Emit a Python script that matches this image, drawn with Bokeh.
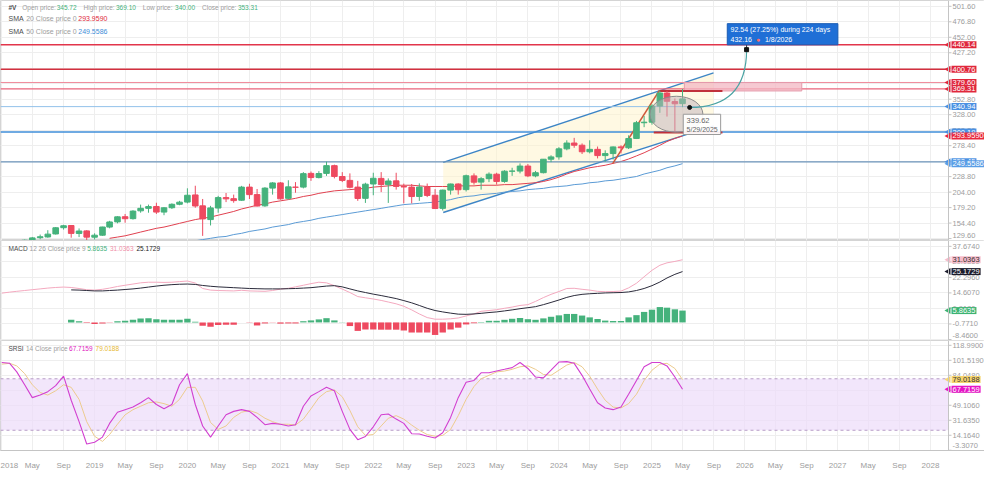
import math
import pandas as pd
from datetime import datetime
from bokeh.plotting import figure
from bokeh.layouts import column
from bokeh.models import (Range1d, FixedTicker, MonthsTicker, CustomJSTickFormatter,
                          Span, Label, ColumnDataSource)
from bokeh.core.properties import value
from bokeh.embed import file_html
from bokeh.resources import INLINE

# ---------------- data (monthly, Jan 2018 .. May 2025) ----------------
first_month = "2018-01-01"
opens = [114.6, 124.3, 122.9, 119.6, 127.0, 131.0, 132.2, 137.0, 147.0, 150.5, 137.8, 141.9,
         131.8, 135.0, 148.0, 156.3, 164.6, 161.5, 174.0, 178.0, 181.0, 172.0, 179.0, 184.5,
         188.0, 199.5, 182.0, 160.0, 178.5, 195.2, 193.5, 191.0, 212.0, 200.0, 182.0, 210.4,
         218.7, 194.0, 212.0, 212.0, 234.0, 227.3, 234.0, 246.4, 229.0, 222.8, 212.0, 194.0,
         217.0, 226.0, 216.0, 222.0, 213.0, 212.0, 197.0, 212.0, 199.0, 178.0, 207.2, 217.0,
         208.0, 230.0, 220.0, 225.5, 232.7, 221.1, 237.5, 237.7, 245.7, 230.0, 235.1, 256.7,
         260.4, 273.3, 282.6, 279.1, 268.6, 272.5, 262.5, 265.7, 276.4, 275.0, 289.9, 315.1,
         316.0, 341.8, 362.7, 349.0, 345.72]
highs = [126.9, 126.6, 126.9, 128.0, 132.2, 136.0, 143.0, 148.0, 151.6, 151.3, 145.8, 143.0,
         138.0, 148.5, 158.0, 165.4, 169.0, 175.0, 184.0, 184.0, 187.0, 180.0, 186.0, 190.0,
         210.1, 214.2, 193.0, 182.0, 198.0, 202.6, 200.0, 214.0, 217.4, 209.0, 212.0, 220.0,
         220.0, 223.0, 220.0, 236.0, 237.0, 237.6, 252.7, 248.0, 236.0, 234.0, 222.0, 219.0,
         235.0, 236.0, 226.0, 235.0, 217.6, 217.0, 218.0, 217.7, 208.8, 208.0, 217.6, 218.0,
         232.0, 234.0, 228.0, 235.6, 235.0, 239.0, 243.0, 250.0, 249.0, 238.0, 257.0, 263.0,
         276.0, 287.0, 290.9, 282.0, 287.0, 277.0, 271.0, 277.0, 279.0, 295.0, 318.0, 326.0,
         344.8, 366.5, 366.0, 354.0, 369.10]
lows = [114.0, 111.0, 117.0, 117.0, 124.0, 128.5, 131.0, 136.0, 144.0, 131.0, 132.0, 121.6,
        127.9, 134.0, 146.0, 154.0, 155.0, 160.0, 171.0, 171.0, 169.0, 167.0, 177.0, 183.0,
        186.0, 179.0, 133.9, 150.6, 171.0, 188.0, 187.0, 190.0, 193.0, 181.0, 180.5, 200.0,
        192.0, 192.0, 203.0, 210.0, 222.0, 226.0, 230.0, 226.0, 220.0, 210.0, 190.0, 186.7,
        199.0, 204.0, 186.7, 208.0, 186.0, 185.9, 190.0, 196.0, 177.6, 174.6, 200.0, 200.0,
        205.0, 216.0, 208.0, 220.0, 216.0, 219.0, 230.0, 234.0, 228.0, 227.8, 234.0, 252.0,
        256.0, 271.0, 275.0, 265.0, 266.0, 258.0, 252.7, 256.0, 266.0, 273.0, 289.0, 308.0,
        312.0, 331.0, 325.0, 300.0, 340.00]
closes = [124.3, 122.9, 119.6, 126.9, 130.7, 132.5, 136.7, 146.9, 150.1, 137.9, 141.7, 131.9,
          135.0, 148.1, 156.2, 164.4, 161.4, 173.6, 178.0, 180.8, 172.0, 178.9, 184.5, 187.9,
          199.0, 181.8, 161.1, 178.7, 195.2, 193.2, 190.4, 212.0, 200.0, 181.7, 210.4, 218.7,
          193.2, 212.4, 211.7, 233.6, 227.3, 233.8, 246.4, 229.1, 222.8, 211.8, 193.8, 216.7,
          226.2, 216.1, 221.8, 213.1, 212.2, 196.9, 212.1, 198.7, 177.7, 207.2, 217.0, 207.8,
          230.2, 219.9, 225.5, 232.7, 221.1, 237.5, 237.7, 245.7, 230.0, 235.1, 256.7, 260.4,
          273.3, 282.6, 279.1, 268.6, 272.5, 262.5, 265.7, 276.4, 275.0, 289.9, 315.1, 316.0,
          341.8, 362.7, 349.5, 345.5, 353.31]

sma20_first = 14
sma20 = [130, 132, 134, 137, 140, 143, 146, 148, 151, 154,
         157, 160, 162, 164, 167, 170, 173, 177, 180, 183, 185, 188,
         190, 192, 194, 197, 199, 202, 204, 206, 207, 208, 209, 210,
         212, 213, 214, 215, 215, 215, 214, 213, 213, 213, 213, 214,
         214, 214, 215, 215, 215, 216, 216, 217, 218, 219, 221, 224,
         228, 233, 237, 240, 243, 245, 247, 250, 253, 257, 262, 267,
         273, 279, 285, 290, 293.9590]
sma50_first = 25
sma50 = [126, 128, 130, 132, 133, 136, 138, 141, 143, 145, 148,
         150, 152, 155, 157, 159, 162, 164, 166, 168, 170, 172, 174,
         176, 178, 180, 182, 184, 185, 186, 187, 188, 190, 192, 195,
         197, 198, 200, 201, 202, 204, 205, 206, 208, 209, 210, 212,
         213, 214, 216, 217, 219, 220, 222, 223, 225, 227, 229, 233,
         236, 239, 243, 246, 249.5586]

macd_line = [14.5, 15.0, 15.4, 15.8, 16.2, 16.6, 17.0, 17.3, 17.5, 17.3, 16.8, 16.2,
             16.0, 16.4, 17.0, 17.8, 18.4, 19.0, 19.6, 19.9, 19.9, 19.8, 19.9, 20.2,
             20.5, 19.5, 16.8, 16.0, 15.8, 15.7, 15.6, 15.9, 15.6, 15.5, 15.4, 15.8,
             16.5, 16.9, 17.6, 18.4, 19.2, 19.9, 19.6, 18.2, 16.5, 14.8, 12.8, 12.2,
             11.6, 10.9, 10.1, 9.2, 8.0, 6.2, 4.2, 2.4, 1.6, 1.6, 1.8, 2.2,
             3.2, 4.2, 5.5, 5.9, 6.3, 7.0, 7.6, 8.4, 8.8, 10.4, 12.3, 13.9,
             15.3, 16.8, 16.9, 16.4, 16.0, 15.4, 15.2, 15.3, 15.5, 17.1, 19.4, 22.6,
             25.8, 28.3, 29.5, 30.2, 31.0363]
signal_first = 9
signal_line = [16.1, 16.0, 15.8,
               15.6, 15.6, 15.8, 16.0, 16.3, 16.6, 17.0, 17.5, 18.0, 18.4, 18.7, 18.9,
               19.0, 18.8, 18.3, 17.9, 17.6, 17.4, 17.2, 17.0, 16.8, 16.7, 16.6, 16.6,
               16.6, 16.7, 16.8, 17.0, 17.2, 17.6, 18.0, 18.2, 17.6, 16.6, 15.6, 14.8,
               14.0, 13.3, 12.6, 11.8, 10.8, 9.7, 8.4, 7.0, 5.9, 5.2, 4.6, 4.1,
               4.0, 4.2, 4.5, 4.9, 5.2, 5.7, 6.2, 6.8, 7.3, 7.8, 8.8, 9.9,
               11.1, 12.4, 13.3, 13.9, 14.2, 14.4, 14.6, 14.7, 14.8, 15.1, 15.8, 16.8,
               18.2, 20.0, 22.0, 23.8, 25.1729]
hist_first = 9
macd_hist = [1.3, 0.6, -0.3,
             -0.8, -0.5, -0.2, 0.6, 0.8, 1.3, 2.0, 2.1, 1.6, 1.3, 1.3, 1.3,
             1.8, 0.3, -1.6, -2.2, -1.3, -1.2, -1.2, -0.1, -0.2, -1.5, -0.5, -0.1,
             -0.6, -0.5, -0.5, 0.6, 1.0, 1.5, 2.1, 1.0, 0.1, -1.8, -4.2, -3.5,
             -3.5, -3.6, -3.6, -3.6, -4.0, -5.0, -5.0, -5.0, -6.2, -5.0, -3.5, -2.6,
             -1.0, -0.4, 0.2, 0.8, 0.8, 1.3, 1.8, 2.2, 1.6, 1.3, 2.0, 2.8,
             3.5, 4.2, 4.2, 3.4, 2.5, 1.7, 0.9, 0.7, 0.7, 2.5, 3.6, 5.2,
             6.3, 7.6, 7.3, 6.5, 5.8635]

srsi_k = [99, 98, 88, 73, 58, 61, 65, 72, 83, 55, 30, 4,
          6, 12, 28, 41, 44, 47, 52, 58, 50, 45, 50, 73,
          86, 50, 25, 12, 25, 38, 42, 44, 42, 35, 26.5, 28,
          27, 25, 26.5, 48, 60, 65, 70, 66, 42, 21, 9, 12.7,
          24, 38, 39, 33, 28, 16, 15.6, 13, 11, 17, 35, 58,
          76, 78, 87, 87, 89, 91, 93, 99, 92, 82, 81, 90,
          99.5, 100, 98, 84, 68, 52, 46, 44, 47, 62, 78, 94,
          99, 99, 95, 82, 67.7159]
srsi_d = [97, 98, 95, 86, 73, 64, 61, 66, 73, 70, 56, 30,
          13, 7, 15, 27, 38, 44, 48, 52, 53, 51, 48, 56,
          70, 70, 54, 29, 21, 25, 35, 41, 43, 40, 34, 30,
          27, 27, 26, 33, 45, 58, 65, 67, 59, 43, 24, 14,
          15, 25, 34, 37, 33, 26, 20, 15, 13, 14, 21, 37,
          56, 71, 80, 84, 88, 89, 91, 94, 95, 91, 85, 84,
          90, 96, 99, 94, 83, 68, 55, 47, 46, 51, 62, 78,
          90, 97, 98, 92, 79.0188]
srsi_band = (20, 80)

level_values = [440.14, 400.76, 379.60, 369.31, 340.94, 300.19, 252.45]
level_colors = ["#e2354b", "#d3303f", "#f08a9b", "#e9637a", "#93c2ea", "#3f8ed8", "#6b93ba"]
level_widths = [1.6, 1.6, 1.0, 1.4, 1.0, 1.6, 1.4]
level_badges = ["#e0283c", "#e0283c", "#e0283c", "#e0283c", "#4a90e2", "#4a90e2", "#4a90e2"]

price_ticks = [129.60, 154.40, 179.20, 204.00, 228.80, 253.60, 278.40, 303.20, 328.00,
               352.80, 377.60, 402.40, 427.20, 452.00, 476.80, 501.60]
macd_ticks = [-8.4600, -0.7710, 6.9180, 14.6070, 22.2960, 29.9850, 37.6740]
srsi_ticks = [-3.3070, 14.1640, 31.6350, 49.1060, 66.5770, 84.0480, 101.5190, 118.9900]

# projection annotation (from the reference)
proj_from = ("2025-05-29", 339.62)
proj_to = ("2026-01-08", 432.16)
proj_change, proj_pct, proj_days = 92.54, 27.25, 224

# ---------------- styling / helpers ----------------
FONT = "Liberation Sans"
GRAY_TXT = "#9d9d9d"
DARK_TXT = "#4a4a4a"
GRID = "#eeeeee"
AXIS_C = "#c4c4c4"
UP, DOWN = "#45b27c", "#ee4a60"

def ms(d):
    return (pd.Timestamp(d) - pd.Timestamp("1970-01-01")).total_seconds() * 1000.0

T0 = ms(datetime(2017, 12, 27))       # left edge of the plotting area
T1 = ms(datetime(2028, 3, 12))        # where the price scale starts
DATA_W, AXIS_W = 948, 36
TOTAL_W = DATA_W + AXIS_W
T_END = T1 + (T1 - T0) * AXIS_W / DATA_W

months = pd.date_range(first_month, periods=len(closes), freq="MS")
t_ms = [ms(d) for d in months]
DAY = 86400000.0
BAR_W = 22 * DAY

xr = Range1d(start=T0, end=T_END)
H_PRICE, H_MACD, H_SRSI = 240, 100, 110

CW = {}
for ch in "0123456789#$": CW[ch] = 0.556
for ch in " .,:;/!": CW[ch] = 0.278
for ch in "ijl": CW[ch] = 0.222
for ch in "rt()-f": CW[ch] = 0.333
CW.update({"m": 0.833, "w": 0.722, "%": 0.889, "M": 0.833, "I": 0.278})

def text_w(s, size, bold=False):
    w = 0.0
    for ch in s:
        if ch in CW: w += CW[ch]
        elif ch.isupper(): w += 0.70
        else: w += 0.53
    return w * size * (1.07 if bold else 1.0)

def header(p, fh, y_top, pieces, size=6.5, x0=8):
    x = x0
    for text, color, bold, gap in pieces:
        p.add_layout(Label(x=x, y=fh - y_top, x_units="screen", y_units="screen", text=text,
                           text_color=color, text_font_size=f"{size}px", text_font=FONT,
                           text_font_style="bold" if bold else "normal",
                           text_baseline="middle", text_align="left"))
        x += text_w(text, size, bold) + gap

def badge(p, y, text, bg, fg="white", size="7.5px"):
    p.scatter([T1 + 0.0], [y], marker="triangle", angle=math.pi / 2, size=7,
              fill_color=bg, line_color=None)
    p.add_layout(Label(x=T1, y=y, text=text, x_offset=3, text_align="left",
                       text_baseline="middle", text_font_size=size, text_font=FONT,
                       text_color=fg, background_fill_color=bg, background_fill_alpha=1.0,
                       padding=1))

def panel(fh, yr, ticks, fmt, bottom=False):
    p = figure(frame_width=TOTAL_W, frame_height=fh, x_range=xr, y_range=yr,
               x_axis_type="datetime", x_axis_location="below" if bottom else None,
               y_axis_location=None, output_backend="svg", toolbar_location=None,
               min_border_left=0, min_border_right=0, min_border_top=0, min_border_bottom=0)
    p.outline_line_color = "#d4d4d4"
    p.background_fill_color = "white"
    p.border_fill_color = "white"
    p.xgrid.ticker = MonthsTicker(months=[0, 4, 8])
    p.ygrid.ticker = FixedTicker(ticks=ticks)
    p.xgrid.grid_line_color = GRID
    p.ygrid.grid_line_color = GRID
    if bottom:
        xa = p.xaxis[0]
        xa.ticker = MonthsTicker(months=[0, 4, 8])
        xa.formatter = CustomJSTickFormatter(args=dict(lim=T1), code="""
            if (tick > lim) { return ""; }
            const d = new Date(tick); const m = d.getUTCMonth();
            if (m == 0) { return String(d.getUTCFullYear()); }
            return ["Jan","Feb","Mar","Apr","May","Jun","Jul","Aug","Sep","Oct","Nov","Dec"][m];
        """)
        xa.major_label_text_font_size = "8px"
        xa.major_label_text_color = GRAY_TXT
        xa.major_label_text_font = FONT
        xa.axis_line_color = AXIS_C
        xa.major_tick_line_color = None
        xa.minor_tick_line_color = None
        xa.major_label_standoff = 4
    return p

def price_scale(p, fh, yr, ticks, fmt):
    p.quad(left=[T1], right=[T_END], bottom=[yr.start], top=[yr.end],
           fill_color="white", line_color=None)
    p.add_layout(Span(location=T1, dimension="height", line_color=AXIS_C, line_width=1))
    p.ray(x=[T1] * len(ticks), y=ticks, length=3, length_units="screen", angle=0,
          line_color=AXIS_C, line_width=1)
    # labels that would fall off the bottom edge are lifted just inside the panel
    per_px = (yr.end - yr.start) / fh
    pos = [t if (t - yr.start) / per_px >= 5 else yr.start + 2.5 * per_px for t in ticks]
    base = ["middle" if (t - yr.start) / per_px >= 5 else "bottom" for t in ticks]
    p.text(x=[T1] * len(ticks), y=pos, text=[fmt.format(t) for t in ticks], x_offset=4,
           text_baseline=base, text_align="left", text_font=value(FONT),
           text_font_size=value("7.5px"), text_color=GRAY_TXT)

def hline(p, y, color, width, dash="solid"):
    p.segment(x0=[T0], y0=[y], x1=[T1], y1=[y], line_color=color, line_width=width,
              line_dash=dash)

# ---------------- price panel ----------------
yr1 = Range1d(126.5, 510.9)
p1 = panel(H_PRICE, yr1, price_ticks, "0.00")

ch_x = [ms("2022-10-03"), ms("2025-08-31")]
ch_up = [251.5, 395.1]
ch_lo = [171.3, 310.2]
p1.patch([ch_x[0], ch_x[1], ch_x[1], ch_x[0]], [ch_up[0], ch_up[1], ch_lo[1], ch_lo[0]],
         fill_color="#fff4cc", fill_alpha=0.55, line_color=None)
p1.line(ch_x, ch_up, line_color="#3d85c6", line_width=1.4)
p1.line(ch_x, ch_lo, line_color="#3d85c6", line_width=1.4)

p1.line([t_ms[i] for i in range(sma50_first, sma50_first + len(sma50))], sma50,
        line_color="#5b9bd5", line_width=1)
p1.line([t_ms[i] for i in range(sma20_first, sma20_first + len(sma20))], sma20,
        line_color="#e0404f", line_width=1)

for v, c, w in zip(level_values, level_colors, level_widths):
    hline(p1, v, c, w)

p1.quad(left=[ms("2025-05-08")], right=[ms("2026-08-13")], top=[379.6], bottom=[366.0],
        fill_color="#f3b7c3", fill_alpha=0.75, line_color="#e59aab", line_width=1)
p1.segment(x0=[ms("2024-07-31")], y0=[250.0], x1=[ms("2025-01-31")], y1=[367.3],
           line_color="#cf5a3a", line_width=1.6)
p1.segment(x0=[ms("2025-01-31")], y0=[366.0], x1=[ms("2025-10-05")], y1=[366.0],
           line_color="#c0303a", line_width=2)
p1.segment(x0=[ms("2025-01-08")], y0=[299.5], x1=[ms("2025-10-05")], y1=[299.5],
           line_color="#c0303a", line_width=2)

cols = [UP if c >= o else DOWN for o, c in zip(opens, closes)]
src = ColumnDataSource(dict(t=t_ms, h=highs, l=lows,
                            top=[max(o, c) for o, c in zip(opens, closes)],
                            bot=[min(o, c) for o, c in zip(opens, closes)], col=cols))
p1.segment(x0="t", y0="l", x1="t", y1="h", line_color="col", line_width=1, source=src)
p1.vbar(x="t", width=BAR_W, top="top", bottom="bot", fill_color="col", line_color="col", source=src)

p1.ellipse(x=[ms("2025-04-07")], y=[328.7], width=53, height=36,
           width_units="screen", height_units="screen",
           fill_color="#bfb2bc", fill_alpha=0.5, line_color="#8c8c8c", line_width=1)

x_a, y_a = ms(proj_from[0]), proj_from[1]
x_b, y_b = ms(proj_to[0]), proj_to[1]
p1.bezier(x0=[x_a], y0=[y_a], x1=[x_b], y1=[y_b],
          cx0=[ms("2025-11-25")], cy0=[y_a], cx1=[x_b], cy1=[385.0],
          line_color="#4aa3a3", line_width=1.2)
p1.scatter([x_a], [y_a], marker="circle", size=4, color="#111111")
p1.segment(x0=[x_b], y0=[439.9], x1=[x_b], y1=[y_b], line_color="#333333", line_width=1)
p1.scatter([x_b], [y_b], marker="square", size=4, color="#111111")

p1.quad(left=[ms("2025-05-04")], right=[ms("2025-09-28")], top=[328.7], bottom=[296.3],
        fill_color="white", fill_alpha=0.92, line_color="#9a9a9a", line_width=1)
p1.add_layout(Label(x=ms("2025-05-17"), y=319.5, text=f"{y_a:.2f}", text_font_size="7.5px",
                    text_font=FONT, text_color="#666666", text_baseline="middle"))
p1.add_layout(Label(x=ms("2025-05-17"), y=304.5, text="5/29/2025", text_font_size="7px",
                    text_font=FONT, text_color="#666666", text_baseline="middle"))

p1.quad(left=[ms("2025-10-24")], right=[ms("2027-01-02")], top=[473.8], bottom=[439.9],
        fill_color="#1f6fd6", line_color="#1a5cb3", line_width=1)
bx = ms("2025-11-06")
p1.add_layout(Label(x=bx, y=464.6,
                    text=f"{proj_change:.2f} ({proj_pct:.2f}%) during {proj_days} days",
                    text_font_size="7px", text_font=FONT, text_color="white", text_baseline="middle"))
p1.add_layout(Label(x=bx, y=448.2, text=f"{y_b:.2f}",
                    text_font_size="7px", text_font=FONT, text_color="white", text_baseline="middle"))
p1.add_layout(Label(x=bx, y=448.2, x_offset=text_w(f"{y_b:.2f}", 7) + 4, text="\u25cf",
                    text_font_size="7px", text_color="#ff6b6b", text_baseline="middle"))
p1.add_layout(Label(x=bx, y=448.2, x_offset=text_w(f"{y_b:.2f}", 7) + 13, text="1/8/2026",
                    text_font_size="7px", text_font=FONT, text_color="white", text_baseline="middle"))

header(p1, H_PRICE, 7, [("#V", DARK_TXT, True, 5),
                        ("Open price:", GRAY_TXT, False, 2), (f"{opens[-1]:.2f}", "#45b27c", False, 7),
                        ("High price:", GRAY_TXT, False, 2), (f"{highs[-1]:.2f}", "#45b27c", False, 7),
                        ("Low price:", GRAY_TXT, False, 2), (f"{lows[-1]:.2f}", "#45b27c", False, 7),
                        ("Close price:", GRAY_TXT, False, 2), (f"{closes[-1]:.2f}", "#45b27c", False, 0)])
header(p1, H_PRICE, 18, [("SMA", DARK_TXT, False, 2), ("20 Close price 0", GRAY_TXT, False, 2),
                         (f"{sma20[-1]:.4f}", "#e0283c", False, 0)], size=7)
header(p1, H_PRICE, 31, [("SMA", DARK_TXT, False, 2), ("50 Close price 0", GRAY_TXT, False, 2),
                         (f"{sma50[-1]:.4f}", "#3f8ed8", False, 0)], size=7)

price_scale(p1, H_PRICE, yr1, price_ticks, "{:.2f}")
for v, bg in zip(level_values, level_badges):
    badge(p1, v, f"{v:.2f}", bg)
badge(p1, sma20[-1], f"{sma20[-1]:.4f}", "#e8283c")
badge(p1, sma50[-1], f"{sma50[-1]:.4f}", "#5a9ee6")

# ---------------- MACD panel ----------------
yr2 = Range1d(-8.95, 40.56)
p2 = panel(H_MACD, yr2, macd_ticks, "0.0000")
h_t = [t_ms[i] for i in range(hist_first, hist_first + len(macd_hist))]
p2.vbar(x=h_t, width=25 * DAY, top=macd_hist, bottom=0,
        fill_color=[UP if v >= 0 else DOWN for v in macd_hist], line_color=None)
p2.line(t_ms[:len(macd_line)], macd_line, line_color="#f4a9bf", line_width=1)
p2.line([t_ms[i] for i in range(signal_first, signal_first + len(signal_line))], signal_line,
        line_color="#2b2b3b", line_width=1)
header(p2, H_MACD, 8, [("MACD", DARK_TXT, False, 2), ("12 26 Close price 9", GRAY_TXT, False, 2),
                       (f"{macd_hist[-1]:.4f}", "#45b27c", False, 3),
                       (f"{macd_line[-1]:.4f}", "#f08fa8", False, 3),
                       (f"{signal_line[-1]:.4f}", "#222222", False, 0)])
price_scale(p2, H_MACD, yr2, macd_ticks, "{:.4f}")
badge(p2, macd_line[-1], f"{macd_line[-1]:.4f}", "#f6bccb", "#333333")
badge(p2, signal_line[-1], f"{signal_line[-1]:.4f}", "#1c1c2c")
badge(p2, macd_hist[-1], f"{macd_hist[-1]:.4f}", "#3cb371")

# ---------------- SRSI panel ----------------
yr3 = Range1d(-3.6, 124.6)
p3 = panel(H_SRSI, yr3, srsi_ticks, "0.0000", bottom=True)
p3.quad(left=[T0], right=[T1], bottom=[srsi_band[0]], top=[srsi_band[1]],
        fill_color="#eddcfa", fill_alpha=0.7, line_color=None)
for lv in srsi_band:
    hline(p3, lv, "#b79cc6", 1, "3 3")
p3.line(t_ms[:len(srsi_d)], srsi_d, line_color="#eccb8e", line_width=1)
p3.line(t_ms[:len(srsi_k)], srsi_k, line_color="#d23fd0", line_width=1.1)
header(p3, H_SRSI, 8, [("SRSI", DARK_TXT, False, 2), ("14 Close price", GRAY_TXT, False, 2),
                       (f"{srsi_k[-1]:.4f}", "#e020c0", False, 3),
                       (f"{srsi_d[-1]:.4f}", "#e6b830", False, 0)])
price_scale(p3, H_SRSI, yr3, srsi_ticks, "{:.4f}")
badge(p3, srsi_d[-1], f"{srsi_d[-1]:.4f}", "#f6d56f", "#333333")
badge(p3, srsi_k[-1], f"{srsi_k[-1]:.4f}", "#e615c6")

layout = column(p1, p2, p3, spacing=0)
open("out.html", "w").write(file_html(layout, INLINE))
